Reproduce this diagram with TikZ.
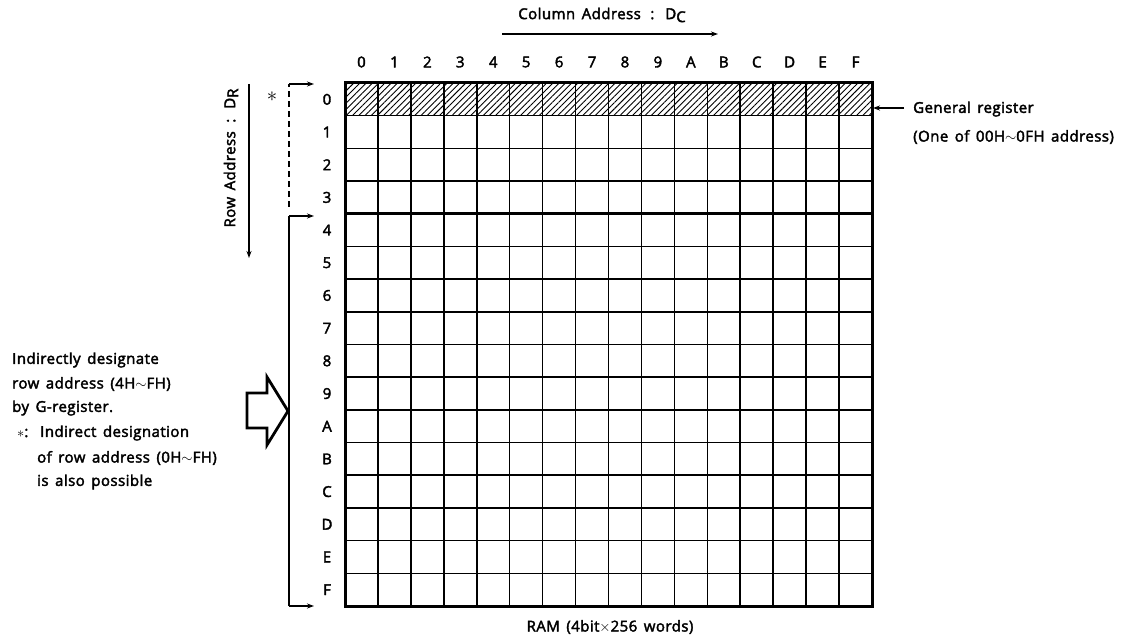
\documentclass[tikz,border=0pt]{standalone}
\usepackage{fontspec}
\setmainfont{Open Sans}[LetterSpace=3,WordSpace=1.5,BoldFont={Open Sans},BoldFeatures={FakeBold=2.5,LetterSpace=3,WordSpace=1.5}]
\usetikzlibrary{arrows.meta,patterns.meta}
\begin{document}
\begin{tikzpicture}[x=1pt,y=-1pt,
  lbl/.style={font=\fontsize{15}{17}\selectfont\bfseries, inner sep=0pt},
  txt/.style={font=\fontsize{15}{17}\selectfont\bfseries, inner sep=0pt, anchor=west},
  arr/.style={line width=1.2pt, -{Stealth[length=7pt,width=5pt]}},
  thin grid/.style={line width=1.6pt},
  thick grid/.style={line width=3pt}]
\useasboundingbox (0,0) rectangle (1134,636);
\def\cw{32.9375}\def\ch{32.6875}
% hatched row 0
\fill[pattern={Lines[angle=45,distance=4.4pt,line width=0.9pt]}] (345,83) rectangle (872,115.7);
% inner grid lines
\foreach \i in {1,...,15} {
  \draw[thin grid] ({345+\i*\cw},83) -- ({345+\i*\cw},606);
}
\foreach \j in {1,2,3,5,6,7,8,9,10,11,12,13,14,15} {
  \draw[thin grid] (345,{83+\j*\ch}) -- (872,{83+\j*\ch});
}
\draw[thick grid] (345,{83+4*\ch}) -- (872,{83+4*\ch});
\draw[thick grid] (345,83) rectangle (872,606);
% column and row labels
\foreach \c [count=\i from 0] in {0,1,2,3,4,5,6,7,8,9,A,B,C,D,E,F} {
  \node[lbl] (c\c) at ({345+\cw/2+\i*\cw},62) {\c};
  \node[lbl] (r\c) at (327,{83+\ch/2+\i*\ch}) {\c};
}
% column address
\node[lbl] (coltitle) at (602,15) {Column Address\hspace{3pt} : \hspace{3pt}D\raisebox{-3pt}{C}};
\coordinate (ca1) at (502,34);
\coordinate (ca2) at (718,34);
\draw[arr] (ca1) -- (ca2);
% row address
\node[lbl, rotate=90] (rowtitle) at (231,158) {Row Address\hspace{2pt} : \hspace{2pt}D\raisebox{-3pt}{R}};
\coordinate (ra1) at (249,84);
\coordinate (ra2) at (249,258);
\draw[arr] (ra1) -- (ra2);
% brackets
\node[inner sep=0pt, font=\fontsize{22}{22}\selectfont] (star) at (272,97) {$\ast$};
\coordinate (b0) at (289,84);
\coordinate (b0e) at (314,84);
\coordinate (b1) at (289,207);
\draw[line width=1.2pt, dash pattern=on 6pt off 4pt] (b1) -- (b0);
\draw[arr] (b0) -- (b0e);
\coordinate (b4) at (289,216);
\coordinate (b4e) at (314,216);
\coordinate (bF) at (289,606);
\coordinate (bFe) at (314,606);
\draw[line width=1.2pt] (bF) -- (b4);
\draw[arr] (b4) -- (b4e);
\draw[arr] (bF) -- (bFe);
% hollow arrow
\draw[line width=2.8pt, line join=miter] (247,393) -- (267,393) -- (267,377) -- (288,411) -- (267,445) -- (267,428) -- (247,428) -- cycle;
% left text
\node[txt] (t1) at (12,360) {Indirectly designate};
\node[txt] (t2) at (12,384) {row address (4H$\sim$FH)};
\node[txt] (t3) at (12,408) {by G-register.};
\node[txt] (t4a) at (17,433) {$\ast$:};
\node[txt] (t4) at (40,433) {Indirect designation};
\node[txt] (t5) at (37,458) {of row address (0H$\sim$FH)};
\node[txt] (t6) at (37,482) {is also possible};
% general register
\coordinate (gr1) at (904,108);
\coordinate (gr0) at (873,108);
\draw[arr] (gr1) -- (gr0);
\node[txt] (g1) at (913,109) {General register};
\node[txt] (g2) at (913,137) {(One of 00H$\sim$0FH address)};
% RAM label
\node[txt, anchor=center] (ram) at (610,627) {RAM (4bit$\times$256 words)};
\end{tikzpicture}
\end{document}
